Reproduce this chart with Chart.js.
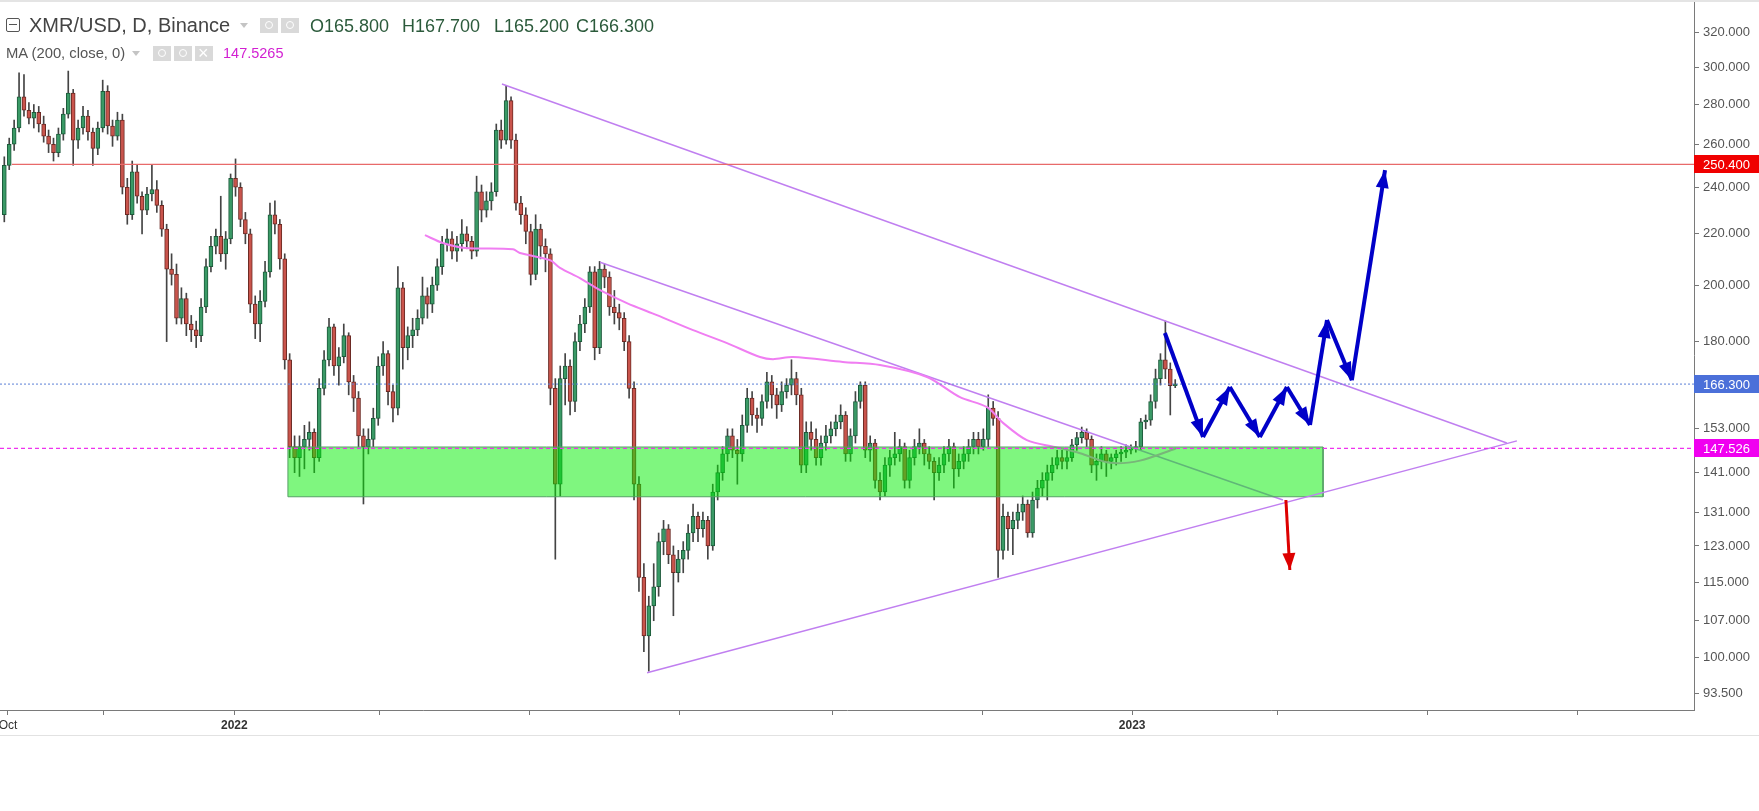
<!DOCTYPE html>
<html lang="en">
<head>
  <meta charset="UTF-8">
  <title>XMR/USD, D, Binance</title>
  <script src="https://cdn.jsdelivr.net/npm/chart.js"></script>
  <style>
    body {
      margin: 0;
      background: #fff;
      font-family: 'Liberation Sans', Arial, sans-serif;
    }
    #wrap {
      position: relative;
      width: 1759px;
      height: 811px;
      overflow: hidden;
      background: #fff;
    }
    #plot {
      position: absolute;
      left: 0;
      top: 0;
      width: 1759px;
      height: 811px;
    }
    .topline { position: absolute; left: 0; top: 0; width: 1759px; height: 2px; background: #e4e4e4; }
    .baseline { position: absolute; left: 0; top: 735px; width: 1759px; height: 1px; background: #e2e2e2; }
    .lg {
      position: absolute;
      white-space: nowrap;
      font-family: 'Liberation Sans', Arial, sans-serif;
    }
    .title { font-size: 20px; line-height: 24px; color: #444; }
    .ohlc { font-size: 18px; line-height: 24px; color: #2b5a3b; }
    .ma { font-size: 14.8px; line-height: 18px; color: #555; }
    .maval { font-size: 14.5px; line-height: 18px; color: #d21fd2; }
    .sq {
      position: absolute;
      width: 12px; height: 12px;
      border: 1px solid #555;
      border-radius: 2px;
    }
    .sq::after {
      content: '';
      position: absolute;
      left: 2px; top: 5px;
      width: 8px; height: 1px;
      background: #555;
    }
    .caret {
      position: absolute;
      width: 0; height: 0;
      border-left: 4px solid transparent;
      border-right: 4px solid transparent;
      border-top: 5px solid #c4c4c4;
    }
    .btn {
      position: absolute;
      width: 18px; height: 15px;
      background: #d9d9d9;
    }
    .btn::after {
      content: '';
      position: absolute;
      left: 5px; top: 3px;
      width: 6px; height: 6px;
      border: 1px solid #fff;
      border-radius: 50%;
    }
    .btn.x::after {
      content: '\00d7';
      border: none;
      left: 3px; top: -3px;
      width: auto; height: auto;
      color: #fff;
      font-size: 18px;
      line-height: 20px;
    }
  </style>
</head>
<body>
  <div id="wrap">
    <div id="plot"><canvas id="chart"></canvas></div>
    <div class="topline"></div>
    <div class="baseline"></div>

    <span class="sq" style="left:6px;top:18px"></span>
    <span class="lg title" style="left:29px;top:13px">XMR/USD, D, Binance</span>
    <span class="caret" style="left:240px;top:23px"></span>
    <span class="btn" style="left:260px;top:18px"></span>
    <span class="btn" style="left:281px;top:18px"></span>
    <span class="lg ohlc" style="left:310px;top:14px">O165.800</span>
    <span class="lg ohlc" style="left:402px;top:14px">H167.700</span>
    <span class="lg ohlc" style="left:494px;top:14px">L165.200</span>
    <span class="lg ohlc" style="left:576px;top:14px">C166.300</span>

    <span class="lg ma" style="left:6px;top:44px">MA (200, close, 0)</span>
    <span class="caret" style="left:132px;top:51px"></span>
    <span class="btn" style="left:153px;top:46px"></span>
    <span class="btn" style="left:174px;top:46px"></span>
    <span class="btn x" style="left:195px;top:46px"></span>
    <span class="lg maval" style="left:223px;top:44px">147.5265</span>
  </div>

  <script>
    // 2-day candles, x = days since 1 Oct 2021
    const firstDay = -1.5;
    const candleDays = 2;

    const opens = [
      228,250,260,268,284,277,273,276,270,264, 260,256,265,275,286,262,268,274,266,258,
      268,287,269,264,272,240,228,247,236,230, 237,239,232,222,206,204,188,195,186,184,
      182,192,207,215,219,212,218,244,240,226, 220,193,186,194,205,228,224,210,174,148,
      145,148,150,152,145,165,174,185,172,175, 182,167,162,151,148,150,156,172,176,164,
      159,199,178,182,184,188,196,193,200,207, 216,218,213,216,220,217,213,238,230,234,
      238,267,262,282,262,233,228,221,204,222, 215,212,165,138,168,172,161,180,186,192,
      205,178,206,203,192,190,188,180,165,138, 116,104,110,114,124,127,121,117,120,122,
      126,130,127,129,123,136,141,146,151,147, 146,154,162,157,156,161,167,163,160,164,
      166,168,163,143,152,150,145,149,151,153, 155,157,146,151,161,166,147,149,139,136,
      143,145,146,148,139,145,148,149,146,144, 141,143,146,148,142,144,146,148,150,148,
      150,159,156,122,130,127,129,131,133,126, 134,137,139,141,143,145,144,145,148.5,150.5,
      152,150,143,144,146,144,145,146,146.5,147, 147.5,148,155,155.5,161,168,174,171,165.8
    ];
    const highs = [
      254,263,272,297,296,281,280,279,274,267, 263,268,278,298,288,272,279,277,268,271,
      293,290,272,276,275,244,252,250,238,240, 250,243,234,224,212,208,199,197,189,187,
      195,210,219,222,236,221,246,253,242,229, 222,196,198,209,233,234,226,212,176,151,
      151,154,155,153,168,177,188,186,178,186, 183,169,164,153,153,159,175,180,177,166,
      207,201,185,188,191,203,199,203,210,219, 222,221,219,226,223,219,245,241,238,242,
      270,272,290,284,265,236,231,224,228,224, 218,214,168,172,176,174,183,189,195,207,
      207,209,208,205,198,193,190,182,167,140, 119,112,119,126,129,128,123,122,124,128,
      133,131,131,130,138,143,148,153,153,150, 157,165,164,159,163,170,169,165,167,168,
      174,170,165,155,155,153,151,154,155,157, 160,158,153,164,167,167,151,150,141,145,
      147,152,150,149,147,150,153,150,148,145, 145,148,150,149,146,148,150,152,152,153,
      163,161,158,133,131,131,133,135,134,136, 139,141,143,145,147,147,147,150,152,153.5,
      153,151,146,148,147,146,147,148,148.5,148.5, 149.5,156,157,163,171,176,187,173,167.7
    ];
    const lows = [
      225,248,257,266,274,270,268,266,261,256, 252,254,262,273,250,258,265,262,250,255,
      266,265,259,262,237,224,226,233,220,228, 234,229,219,180,200,186,186,182,180,178,
      180,190,205,212,209,206,216,236,223,216, 190,181,180,192,203,220,206,171,145,141,
      140,142,147,141,144,163,172,169,166,173, 163,158,148,133,146,148,154,169,160,155,
      157,171,174,178,182,186,188,190,198,204, 213,210,209,213,214,210,211,225,227,230,
      236,258,260,258,230,224,216,200,202,210, 205,160,120,135,160,157,158,177,183,190,
      174,176,199,189,186,184,177,162,134,113, 101,97.4,107,112,121,119,108,115,117,120,
      124,124,125,120,122,134,139,144,145,138, 144,152,154,152,154,159,159,156,158,162,
      163,160,141,141,147,143,143,147,149,151, 153,144,144,149,159,145,144,137,134,135,
      140,143,144,137,137,143,146,143,142,134, 139,141,144,137,140,142,144,146,146,147,
      148,154,116,120,122,121,127,129,125,125, 132,135,134,139,142,142,142,144,147,149,
      148,141,139,142,140,142,143,144,145,146, 146.5,147,153,154,159,166,168,157,165.2
    ];
    const closes = [
      250,260,268,284,277,273,276,270,264,260, 256,265,275,286,262,268,274,266,258,268,
      287,269,264,272,240,228,247,236,230,237, 239,232,222,206,204,188,195,186,184,182,
      192,207,215,219,212,218,244,240,226,220, 193,186,194,205,228,224,210,174,148,145,
      148,150,152,145,165,174,185,172,175,182, 167,162,151,148,150,156,172,176,164,159,
      199,178,182,184,188,196,193,200,207,216, 218,213,216,220,217,213,238,230,234,238,
      267,262,282,262,233,228,221,204,222,215, 212,165,138,168,172,161,180,186,192,205,
      178,206,203,192,190,188,180,165,138,116, 104,110,114,124,127,121,117,120,122,126,
      130,127,129,123,136,141,146,151,147,146, 154,162,157,156,161,167,163,160,164,166,
      168,163,143,152,150,145,149,151,153,155, 157,146,151,161,166,147,149,139,136,143,
      145,146,148,139,145,148,149,146,144,141, 143,146,148,142,144,146,148,150,148,150,
      159,156,122,130,127,129,131,133,126,134, 137,139,141,143,145,144,145,148.5,150.5,152,
      150,143,144,146,144,145,146,146.5,147,147.5, 148,155,155.5,161,168,174,171,165.8,166.3
    ];

    // MA(200) line
    const maDays = [169.5,176.8,185.8,205.3,208.1,220.3,224.4,232.5,240.7,251.6,263.8,278.5,292.3,305.7,
                    311.0,319.1,339.4,354.5,373.6,387.0,398.0,404.5,414.2,425.6,435.8,448.0,460.2,474.8];
    const maValues = [219.5,216.3,214.3,213.8,212.3,209.5,206.5,202.6,198.1,193.4,189.1,183.9,179.5,174.9,
                      174.2,174.9,173.3,172.3,168.5,162.3,159.3,154.7,149.8,147.9,146.2,143.6,144.2,147.5];

    // drawn trendlines
    const upperDays = [200.8, 609.3];
    const upperPrices = [290.9, 149.0];
    const middleDays = [240.7, 518.3];
    const middlePrices = [208.7, 134.0];
    const lowerDays = [259.8, 613.4];
    const lowerPrices = [97.1, 149.6];

    // support zone
    const zoneDays = [113.8, 534.6];
    const zonePrices = [134.8, 147.9];

    // horizontal levels
    const resistance = 250.4;
    const resistanceFrom = 1.6;
    const lastPrice = 166.3;
    const maLast = 147.526;

    // forecast arrows
    const blueDays = [470.3, 485.8, 496.7, 508.9, 519.9, 529.3, 536.2, 546.3, 559.8];
    const bluePrices = [182.9, 150.7, 165.4, 150.7, 165.4, 154.1, 187.4, 167.5, 247.8];
    const redDays = [519.5, 521.1];
    const redPrices = [134.0, 117.6];

    // axes
    const yTicks = [93.5, 100, 107, 115, 123, 131, 141, 153, 180, 200, 220, 240, 260, 280, 300, 320];
    const xTickDays = [0, 39, 92, 151, 212, 273, 335, 396, 457, 516, 577, 638];
    const xTickLabels = ['Oct', '', '2022', '', '', '', '', '', '2023', '', '', ''];
    const tagValues = [resistance, lastPrice, maLast];
    const tagTexts = ['250.400', '166.300', '147.526'];

    const xMin = -3.25, xMax = 685.4;
    const yMin = 90.6, yMax = 340.2;

    const upFill = '#3a9a66', upEdge = '#1d5a3b';
    const downFill = '#c9544c', downEdge = '#6b2a24';
    const wickColor = '#444';
    const trendColor = '#c07ff0';
    const tagColors = ['#f00000', '#4b70d9', '#f000f0'];

    const candleX = opens.map((_, i) => firstDay + i * candleDays);
    const rising = closes.map((c, i) => c >= opens[i]);

    function pts(xs, ys) {
      return xs.map((x, i) => ({ x: x, y: ys[i] }));
    }

    function lineSet(xs, ys, color, width, order, extra) {
      return Object.assign({
        type: 'line',
        data: pts(xs, ys),
        borderColor: color,
        backgroundColor: color,
        borderWidth: width,
        pointRadius: 0,
        tension: 0,
        fill: false,
        order: order
      }, extra || {});
    }

    const datasets = [
      {
        type: 'bar',
        data: candleX.map((x, i) => ({ x: x, y: [lows[i], highs[i]] })),
        backgroundColor: wickColor,
        barThickness: 1,
        grouped: false,
        order: 6
      },
      {
        type: 'bar',
        data: candleX.map((x, i) => ({ x: x, y: [opens[i], closes[i]] })),
        backgroundColor: rising.map(u => u ? upFill : downFill),
        borderColor: rising.map(u => u ? upEdge : downEdge),
        borderWidth: 1,
        borderSkipped: false,
        barThickness: 4,
        minBarLength: 1,
        grouped: false,
        order: 5
      },
      lineSet(maDays, maValues, '#f07ef2', 2, 4, { tension: 0.3 }),
      lineSet(middleDays, middlePrices, trendColor, 1.5, 4),
      lineSet(
        [zoneDays[0], zoneDays[1], zoneDays[1], zoneDays[0], zoneDays[0]],
        [zonePrices[1], zonePrices[1], zonePrices[0], zonePrices[0], zonePrices[1]],
        '#55a065', 1, 3, { fill: 'shape', backgroundColor: 'rgba(0, 238, 0, 0.5)' }
      ),
      lineSet(upperDays, upperPrices, trendColor, 1.5, 2),
      lineSet(lowerDays, lowerPrices, trendColor, 1.5, 2),
      lineSet([resistanceFrom, xMax], [resistance, resistance], '#e86a6a', 1.3, 1),
      lineSet([xMin, xMax], [lastPrice, lastPrice], '#5a7fd6', 1, 1, { borderDash: [2, 2] }),
      lineSet([xMin, xMax], [maLast, maLast], '#ee33ee', 1.3, 1, { borderDash: [4, 3] }),
      lineSet(redDays, redPrices, '#dd0000', 3, 0, { arrowHead: [17, 13] })
    ];
    for (let k = 0; k < blueDays.length - 1; k++) {
      datasets.push(lineSet(blueDays.slice(k, k + 2), bluePrices.slice(k, k + 2), '#0000c8', 4, 0,
        { arrowHead: [18, 13] }));
    }

    const arrowHeads = {
      id: 'arrowHeads',
      afterDatasetsDraw(chart) {
        const ctx = chart.ctx;
        chart.data.datasets.forEach((ds, i) => {
          if (!ds.arrowHead) return;
          const p = chart.getDatasetMeta(i).data;
          const a = p[p.length - 2], b = p[p.length - 1];
          const ang = Math.atan2(b.y - a.y, b.x - a.x);
          const len = ds.arrowHead[0], half = ds.arrowHead[1] / 2;
          const bx = b.x - len * Math.cos(ang), by = b.y - len * Math.sin(ang);
          ctx.save();
          ctx.fillStyle = ds.borderColor;
          ctx.beginPath();
          ctx.moveTo(b.x, b.y);
          ctx.lineTo(bx + half * Math.sin(ang), by - half * Math.cos(ang));
          ctx.lineTo(bx - half * Math.sin(ang), by + half * Math.cos(ang));
          ctx.closePath();
          ctx.fill();
          ctx.restore();
        });
      }
    };

    const priceTags = {
      id: 'priceTags',
      afterDraw(chart) {
        const ctx = chart.ctx;
        const ys = chart.scales.y;
        ctx.save();
        ctx.font = "13px 'Liberation Sans', Arial, sans-serif";
        ctx.textBaseline = 'middle';
        tagValues.forEach((v, i) => {
          const y = Math.round(ys.getPixelForValue(v));
          ctx.fillStyle = tagColors[i];
          ctx.fillRect(ys.left, y - 9, ys.right - ys.left, 18);
          ctx.fillStyle = '#fff';
          ctx.fillText(tagTexts[i], ys.left + 9, y + 1);
        });
        ctx.restore();
      }
    };

    Chart.defaults.font.family = "'Liberation Sans', Arial, sans-serif";

    new Chart(document.getElementById('chart'), {
      type: 'bar',
      data: { datasets: datasets },
      options: {
        responsive: true,
        maintainAspectRatio: false,
        animation: false,
        layout: { padding: { left: 0, right: 0, top: 0, bottom: 76 } },
        plugins: {
          legend: { display: false },
          tooltip: { enabled: false }
        },
        scales: {
          x: {
            type: 'linear',
            min: xMin,
            max: xMax,
            offset: false,
            bounds: 'data',
            afterBuildTicks: s => { s.ticks = xTickDays.map(v => ({ value: v })); },
            afterFit: s => { s.height = 25; s.paddingLeft = 0; s.paddingRight = 0; },
            ticks: {
              autoSkip: false,
              maxRotation: 0,
              padding: 3,
              color: '#333',
              callback: (v, i) => xTickLabels[i],
              font: c => ({ size: 12, weight: xTickLabels[c.index] === 'Oct' ? 'normal' : 'bold' })
            },
            grid: { offset: false, drawOnChartArea: false, drawTicks: true, tickLength: 5, color: '#777' },
            border: { display: true, color: '#7a7a7a' }
          },
          y: {
            type: 'logarithmic',
            position: 'right',
            min: yMin,
            max: yMax,
            bounds: 'data',
            afterBuildTicks: s => { s.ticks = yTicks.map(v => ({ value: v })); },
            afterFit: s => { s.width = 65; s.paddingTop = 0; s.paddingBottom = 0; },
            ticks: {
              autoSkip: false,
              padding: 4,
              color: '#555',
              font: { size: 13 },
              callback: v => Number(v).toFixed(3)
            },
            grid: { drawOnChartArea: false, drawTicks: true, tickLength: 5, color: '#777' },
            border: { display: true, color: '#7a7a7a' }
          }
        }
      },
      plugins: [arrowHeads, priceTags]
    });
  </script>
</body>
</html>
